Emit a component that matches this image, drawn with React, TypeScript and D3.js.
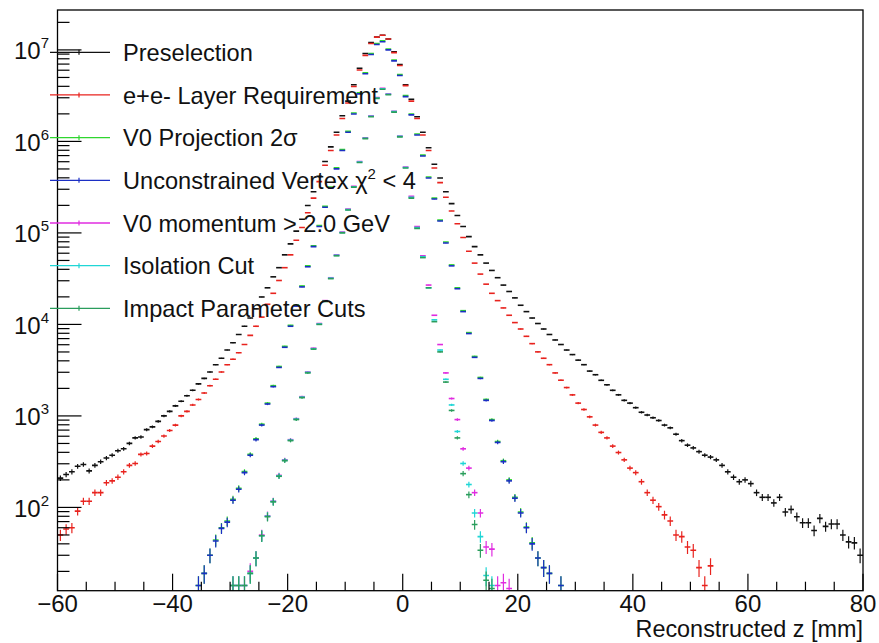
import React from "react";
import * as d3 from "d3";

// Histogram contents: 1 mm bins, each series starts at its own lower edge.
const preselectionStart = -60;
const preselection = [
  209, 229, 245, 282, 295, 251, 288, 316, 347, 372,
  417, 437, 501, 575, 589, 708, 759, 871, 1000, 1122,
  1288, 1445, 1660, 1905, 2239, 2570, 3020, 3631, 4266, 5248,
  6310, 7762, 9550, 11750, 14790, 19950, 25120, 33110, 41690, 57540,
  75860, 104700, 141300, 199500, 281800, 416900, 602600, 871000, 1259000, 1905000,
  2754000, 4169000, 6310000, 9120000, 12020000, 13800000, 14450000, 13180000, 9550000, 6918000,
  4169000, 2884000, 1862000, 1259000, 851000, 562000, 398000, 282000, 209000, 155000,
  117500, 91200, 70800, 57500, 46800, 38900, 32400, 26900, 22900, 19500,
  16200, 13800, 11750, 10230, 8910, 7760, 6760, 6030, 5250, 4680,
  4070, 3630, 3090, 2820, 2450, 2190, 1905, 1700, 1480, 1380,
  1230, 1096, 1023, 955, 891, 794, 741, 631, 537, 479,
  447, 407, 372, 355, 331, 288, 245, 214, 191, 200,
  182, 145, 129, 129, 112, 129, 89, 95, 79, 68,
  68, 56, 76, 62, 66, 66, 50, 42, 41, 30,
];

const layerStart = -60;
const layer = [
  50, 58, 60, 91, 117, 117, 145, 145, 186, 195,
  214, 245, 288, 302, 380, 389, 468, 525, 603, 692,
  794, 1000, 1122, 1318, 1514, 1778, 2138, 2512, 3020, 3631,
  4169, 4898, 6026, 7586, 9550, 12020, 16600, 21880, 30200, 41690,
  57540, 83180, 114800, 166000, 239900, 363100, 549500, 794300, 1175000, 1778000,
  2630000, 3981000, 6026000, 8710000, 11750000, 13800000, 14450000, 13180000, 9333000, 6761000,
  4074000, 2754000, 1778000, 1175000, 794300, 512900, 354800, 245500, 173800, 125900,
  89130, 63100, 46770, 35480, 27540, 21880, 18200, 15140, 12590, 10470,
  8913, 7413, 6166, 5012, 4266, 3631, 2951, 2455, 2042, 1698,
  1380, 1175, 977, 794, 661, 575, 468, 398, 331, 269,
  240, 191, 145, 120, 102, 83, 71, 50, 48, 37,
  34, 22, 14, 23,
];

const projectionStart = -36;
const projection = [
  14, 19, 30, 44, 60, 71, 123, 162, 246, 381,
  563, 812, 1380, 2140, 3470, 5760, 9780, 16230, 26320, 43690,
  72500, 120300, 195100, 316400, 513200, 813400, 1289000, 2043000, 3390000, 5627000,
  9127000, 11760000, 12600000, 10240000, 7768000, 5374000, 3164000, 1997000, 1203000, 708400,
  407700, 240000, 138100, 79480, 44700, 25140, 14130, 8134, 4470, 2632,
  1515, 912, 525, 324, 200, 129, 89, 61, 41, 28,
  22, 19, 0, 14,
];

const vertexStart = -36;
const vertex = [
  14, 19, 30, 43, 59, 69, 120, 158, 240, 372,
  550, 794, 1349, 2089, 3388, 5623, 9550, 15850, 25700, 42660,
  70790, 117500, 190500, 309000, 501200, 794300, 1259000, 1995000, 3311000, 5495000,
  8913000, 11480000, 12300000, 10000000, 7586000, 5248000, 3090000, 1950000, 1175000, 691800,
  398100, 234400, 134900, 77620, 43650, 24550, 13800, 7943, 4365, 2570,
  1479, 891, 513, 316, 195, 126, 87, 60, 40, 28,
  22, 19, 0, 14,
];

const momentumStart = -30;
const momentum = [
  14, 14, 14, 20, 28, 50, 81, 117, 224, 331,
  550, 933, 1622, 3020, 5495, 10230, 18200, 32360, 57540, 102300,
  182000, 323600, 602600, 1096000, 1905000, 3020000, 3802000, 3311000, 2138000, 1148000,
  524800, 251200, 117500, 56230, 26920, 12590, 6026, 2951, 1549, 912,
  437, 269, 145, 87, 37, 35, 14, 15, 13,
];

const isolationStart = -30;
const isolation = [
  14, 14, 14, 19, 28, 49, 80, 116, 221, 327,
  543, 922, 1600, 2990, 5430, 10100, 17990, 32000, 56900, 101200,
  179900, 319900, 595700, 1084000, 1884000, 2986000, 3760000, 3274000, 2114000, 1135000,
  518900, 245600, 114800, 54950, 25120, 11220, 5248, 2512, 1318, 676,
  302, 178, 87, 48, 18, 14,
];

const impactStart = -30;
const impact = [
  14, 14, 14, 19, 28, 49, 79, 115, 219, 324,
  537, 912, 1585, 2951, 5370, 10000, 17780, 31620, 56230, 100000,
  177800, 316200, 588800, 1072000, 1862000, 2951000, 3715000, 3236000, 2089000, 1122000,
  512900, 239900, 112200, 53700, 25120, 10720, 5012, 2344, 1148, 575,
  234, 138, 65, 34, 16, 13,
];

const seriesNames = [
  "Preselection",
  "e+e- Layer Requirement",
  "V0 Projection 2σ",
  "Unconstrained Vertex χ2 < 4",
  "V0 momentum > 2.0 GeV",
  "Isolation Cut",
  "Impact Parameter Cuts",
];
const seriesColors = ["#111111", "#e8231e", "#2fd62f", "#1c2fc4", "#e02ce0", "#20d6d6", "#2a9d5c"];
const seriesStarts = [preselectionStart, layerStart, projectionStart, vertexStart, momentumStart, isolationStart, impactStart];
const seriesCounts = [preselection, layer, projection, vertex, momentum, isolation, impact];

const xMajorTicks = [-60, -40, -20, 0, 20, 40, 60, 80];
const xMinorStep = 5;
const yDecadeExponents = [2, 3, 4, 5, 6, 7];

const W = 879;
const H = 643;
const FRAME = { left: 57.5, right: 863, top: 10, bottom: 590.7 };
const FONT = "'Liberation Sans', Arial, Helvetica, sans-serif";

export default function App() {
  const x = d3.scaleLinear().domain([-60, 80]).range([FRAME.left, FRAME.right]);
  const y = d3.scaleLog().domain([12.3, 2.73e7]).range([FRAME.bottom, FRAME.top]);
  const [yMin, yMax] = y.domain();

  const xMinor = d3.range(-60, 80 + 0.001, xMinorStep).filter((v) => !xMajorTicks.includes(v));
  const yMinor: number[] = [];
  for (let e = 1; e <= 7; e++) {
    for (let k = 2; k <= 9; k++) {
      const v = k * Math.pow(10, e);
      if (v > yMin && v < yMax) yMinor.push(v);
    }
  }

  const fmt = (v: string) => v.replace("-", "\u2212");

  const legendY0 = 52.3;
  const legendStep = 42.67;

  return (
    <svg
      width={W}
      height={H}
      style={{ position: "absolute", left: 0, top: 0, background: "#fff" }}
      fontFamily={FONT}
    >
      <defs>
        <clipPath id="frameClip">
          <rect x={FRAME.left} y={FRAME.top} width={FRAME.right - FRAME.left} height={FRAME.bottom - FRAME.top} />
        </clipPath>
      </defs>
      <rect width={W} height={H} fill="#fff" />

      {/* histogram points with Poisson error bars */}
      <g clipPath="url(#frameClip)">
        {seriesCounts.map((counts, s) => (
          <g key={s} stroke={seriesColors[s]} fill="none">
            {counts.map((c, i) => {
              if (c <= 0) return null;
              const lo = seriesStarts[s] + i;
              const cx = x(lo + 0.5);
              const err = Math.sqrt(c);
              const yc = y(c);
              const yTop = y(c + err);
              const yBot = c - err > 0 ? y(c - err) : FRAME.bottom + 20;
              return (
                <g key={i}>
                  <line x1={x(lo)} x2={x(lo + 1)} y1={yc} y2={yc} strokeWidth={1.6} />
                  <line x1={cx} x2={cx} y1={yTop} y2={yBot} strokeWidth={1.2} />
                </g>
              );
            })}
          </g>
        ))}
      </g>

      {/* frame */}
      <rect
        x={FRAME.left}
        y={FRAME.top}
        width={FRAME.right - FRAME.left}
        height={FRAME.bottom - FRAME.top}
        fill="none"
        stroke="#000"
        strokeWidth={1.3}
      />

      {/* x axis */}
      <g stroke="#000" strokeWidth={1.2}>
        {xMajorTicks.map((t) => (
          <line key={t} x1={x(t)} x2={x(t)} y1={FRAME.bottom} y2={FRAME.bottom - 17} />
        ))}
        {xMinor.map((t) => (
          <line key={t} x1={x(t)} x2={x(t)} y1={FRAME.bottom} y2={FRAME.bottom - 9} />
        ))}
      </g>
      <g fontSize={24} textAnchor="middle" fill="#111">
        {xMajorTicks.map((t) => (
          <text key={t} x={x(t)} y={612}>
            {fmt(String(t))}
          </text>
        ))}
      </g>
      <text x={FRAME.right} y={637} fontSize={23.4} textAnchor="end" fill="#111">
        Reconstructed z [mm]
      </text>

      {/* y axis */}
      <g stroke="#000" strokeWidth={1.2}>
        {yDecadeExponents.map((e) => (
          <line key={e} x1={FRAME.left} x2={FRAME.left + 24} y1={y(Math.pow(10, e))} y2={y(Math.pow(10, e))} />
        ))}
        {yMinor.map((v) => (
          <line key={v} x1={FRAME.left} x2={FRAME.left + 12} y1={y(v)} y2={y(v)} />
        ))}
      </g>
      <g fill="#111">
        {yDecadeExponents.map((e) => (
          <text key={e} x={49} y={y(Math.pow(10, e)) + 9.5} fontSize={24} textAnchor="end">
            10
            <tspan fontSize={15} dy={-11}>
              {e}
            </tspan>
          </text>
        ))}
      </g>

      {/* legend */}
      <g>
        {seriesNames.map((name, s) => {
          const ly = legendY0 + s * legendStep;
          return (
            <g key={name}>
              <line x1={50} x2={110} y1={ly} y2={ly} stroke={seriesColors[s]} strokeWidth={1.3} />
              <line x1={79} x2={79} y1={ly - 2.5} y2={ly + 2.5} stroke={seriesColors[s]} strokeWidth={1.2} />
              <text x={123} y={ly + 8.6} fontSize={23.6} fill="#111">
                {s === 3 ? (
                  <>
                    Unconstrained Vertex χ
                    <tspan fontSize={15} dy={-10}>
                      2
                    </tspan>
                    <tspan dy={10}> {"<"} 4</tspan>
                  </>
                ) : (
                  name
                )}
              </text>
            </g>
          );
        })}
      </g>
    </svg>
  );
}
